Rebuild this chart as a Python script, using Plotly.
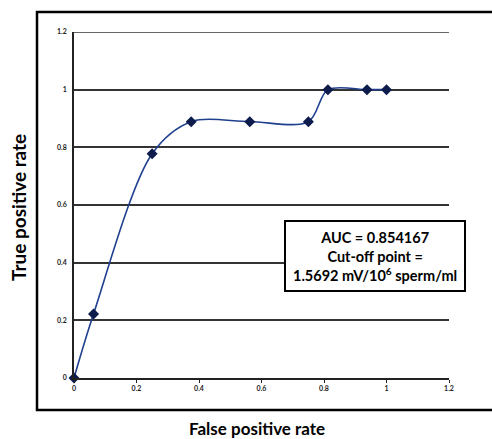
import plotly.graph_objects as go

fpr = [0, 0.0625, 0.25, 0.375, 0.5625, 0.75, 0.8125, 0.9375, 1.0]
tpr = [0, 0.2222, 0.7778, 0.8889, 0.8889, 0.8889, 1.0, 1.0, 1.0]
x_ticks = [0, 0.2, 0.4, 0.6, 0.8, 1, 1.2]
x_tick_labels = ["0", "0.2", "0.4", "0.6", "0.8", "1", "1.2"]
y_ticks = [0, 0.2, 0.4, 0.6, 0.8, 1, 1.2]
y_tick_labels = ["0", "0.2", "0.4", "0.6", "0.8", "1", "1.2"]
x_title = "False positive rate"
y_title = "True positive rate"
box_text = "AUC = 0.854167<br>Cut-off point =<br>1.5692 mV/10<sup>6</sup> sperm/ml"

W, H = 492, 439
L, R, T, B = 74, 43, 32, 61
pw, ph = W - L - R, H - T - B

def px_x(p):
    return (p - L) / pw

def px_y(p):
    return (H - B - p) / ph

fig = go.Figure()
fig.add_trace(go.Scatter(
    x=fpr, y=tpr, mode="lines+markers",
    line=dict(color="#1f3f8f", width=1.6, shape="spline", smoothing=0.9),
    marker=dict(symbol="diamond", size=8.5, color="#0d1b4d"),
    showlegend=False, cliponaxis=False,
))

tickfont = dict(family="Lato, sans-serif", size=7, color="#222222", weight="bold")
fig.update_layout(
    width=W, height=H,
    margin=dict(l=L, r=R, t=T, b=B),
    paper_bgcolor="white", plot_bgcolor="white",
    xaxis=dict(range=[0, 1.2], tickvals=x_ticks, ticktext=x_tick_labels,
               showgrid=False, zeroline=False, showline=True, linecolor="#222222",
               linewidth=1.5, ticks="outside", ticklen=3, tickcolor="#222222",
               tickfont=tickfont, fixedrange=True),
    yaxis=dict(range=[0, 1.2], tickvals=y_ticks, ticktext=y_tick_labels,
               showgrid=True, gridcolor="#333333", gridwidth=1.5, zeroline=False,
               showline=True, linecolor="#222222", linewidth=1.5, ticks="",
               tickfont=tickfont, ticklabelstandoff=4, fixedrange=True),
)

# top gridline at the range edge
fig.add_shape(type="line", xref="x", yref="y", x0=0, x1=max(x_ticks),
              y0=max(y_ticks), y1=max(y_ticks),
              line=dict(color="#333333", width=1.5), layer="below")

# outer frame
fig.add_shape(type="rect", xref="paper", yref="paper",
              x0=px_x(37), x1=px_x(520), y0=px_y(410), y1=px_y(12),
              line=dict(color="black", width=2.5), layer="below")

# annotation box
fig.add_shape(type="rect", xref="paper", yref="paper",
              x0=px_x(285), x1=px_x(465), y0=px_y(291), y1=px_y(221),
              line=dict(color="black", width=2), fillcolor="white", layer="above")
fig.add_annotation(xref="paper", yref="paper", x=px_x(375), y=px_y(256),
                   xanchor="center", yanchor="middle",
                   text=box_text, showarrow=False, align="center",
                   font=dict(family="Lato, sans-serif", size=14.5, color="black", weight="bold"))

fig.add_annotation(xref="paper", yref="paper", x=px_x(257), y=px_y(428),
                   xanchor="center", yanchor="middle",
                   text=x_title, showarrow=False,
                   font=dict(family="Lato, sans-serif", size=17, color="black", weight="bold"))
fig.add_annotation(xref="paper", yref="paper", x=px_x(18), y=px_y(207),
                   xanchor="center", yanchor="middle",
                   text=y_title, showarrow=False, textangle=-90,
                   font=dict(family="Lato, sans-serif", size=19, color="black", weight="bold"))

fig.write_html("out.html", config={"displayModeBar": False},
               post_script="document.body.style.margin='0';document.body.style.overflow='hidden';")
